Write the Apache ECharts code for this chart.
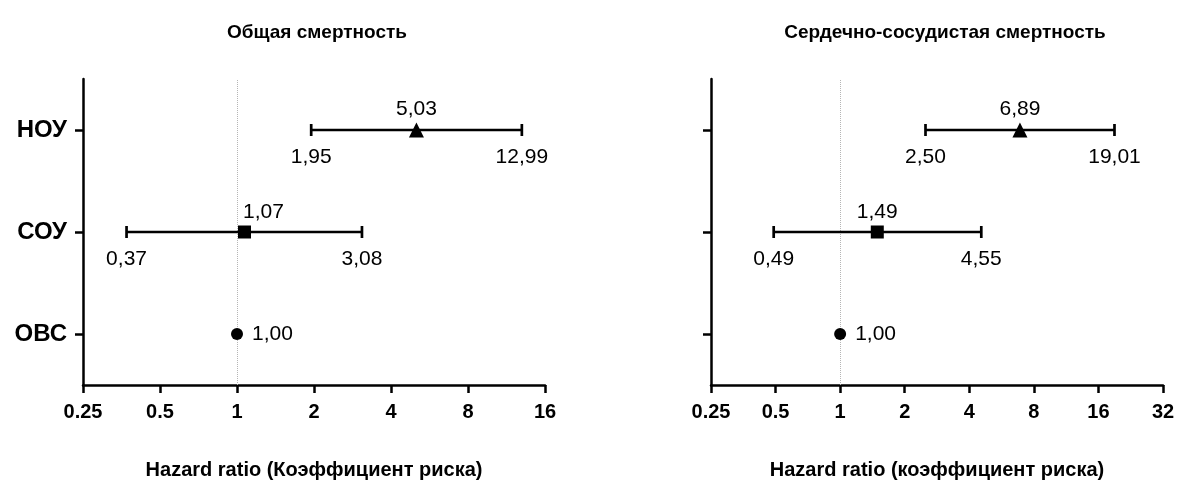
<!DOCTYPE html>
<html>
<head>
<meta charset="utf-8">
<script src="https://cdn.jsdelivr.net/npm/echarts@6/dist/echarts.min.js"></script>
<style>
  html, body { margin: 0; padding: 0; background: #fff; }
  #chart { width: 1179px; height: 491px; }
</style>
</head>
<body>
<div id="chart"></div>
<script>
// Groups, bottom to top on the category axis
const groups = ['ОВС', 'СОУ', 'НОУ'];

// All-cause mortality: hazard ratio with 95% CI
const totalHR   = [1.00, 1.07, 5.03];
const totalLow  = [null, 0.37, 1.95];
const totalHigh = [null, 3.08, 12.99];

// Cardiovascular mortality: hazard ratio with 95% CI
const cvHR   = [1.00, 1.49, 6.89];
const cvLow  = [null, 0.49, 2.50];
const cvHigh = [null, 4.55, 19.01];

// Tick labels of the log2 axes
const totalTicks = ['0.25', '0.5', '1', '2', '4', '8', '16'];
const cvTicks    = ['0.25', '0.5', '1', '2', '4', '8', '16', '32'];

const titles = ['Общая смертность', 'Сердечно-сосудистая смертность'];
const axisNames = ['Hazard ratio (Коэффициент риска)', 'Hazard ratio (коэффициент риска)'];

const markerShapes = ['circle', 'rect', 'triangle'];
const markerSizes = [12, 13, 15];

const FONT = "'Liberation Sans', Arial, Helvetica, sans-serif";
const VALUE_FONT_SIZE = 21;
const fmt = v => v.toFixed(2).replace('.', ',');

// Horizontal confidence interval with end caps and the bound values beneath
function ciRenderItem(params, api) {
  const lo = api.value(0), hi = api.value(1), cat = api.value(2);
  const a = api.coord([lo, cat]);
  const b = api.coord([hi, cat]);
  const cap = 6;
  const stroke = { stroke: '#000', lineWidth: 2.7 };
  const txt = (x, y, s) => ({
    type: 'text', x: x, y: y,
    style: { text: s, align: 'center', verticalAlign: 'middle',
             font: VALUE_FONT_SIZE + 'px ' + FONT, fill: '#000' }
  });
  return {
    type: 'group',
    children: [
      { type: 'line', shape: { x1: a[0], y1: a[1], x2: b[0], y2: b[1] }, style: stroke },
      { type: 'line', shape: { x1: a[0], y1: a[1] - cap, x2: a[0], y2: a[1] + cap }, style: stroke },
      { type: 'line', shape: { x1: b[0], y1: b[1] - cap, x2: b[0], y2: b[1] + cap }, style: stroke },
      txt(a[0], a[1] + 27, fmt(lo)),
      txt(b[0], b[1] + 27, fmt(hi))
    ]
  };
}

function panel(idx, hr, low, high) {
  const ciData = [];
  hr.forEach((v, i) => {
    if (low[i] != null) ciData.push([low[i], high[i], i]);
  });
  const pointData = hr.map((v, i) => {
    const onRef = v === 1;
    const nearRef = !onRef && Math.abs(Math.log2(v)) < 0.2;
    return {
      value: [v, i],
      symbol: markerShapes[i],
      symbolSize: markerSizes[i],
      label: onRef
        ? { position: 'right', distance: 9 }
        : { position: 'top', distance: 3, offset: nearRef ? [19, 0] : [0, 0] }
    };
  });
  return [
    {
      type: 'custom',
      xAxisIndex: idx, yAxisIndex: idx,
      renderItem: ciRenderItem,
      encode: { x: [0, 1], y: 2 },
      data: ciData,
      z: 2
    },
    {
      type: 'scatter',
      xAxisIndex: idx, yAxisIndex: idx,
      data: pointData,
      itemStyle: { color: '#000', opacity: 1 },
      label: {
        show: true,
        formatter: p => fmt(p.value[0]),
        color: '#000',
        fontFamily: FONT,
        fontSize: VALUE_FONT_SIZE
      },
      emphasis: { disabled: true },
      z: 3,
      markLine: {
        silent: true,
        symbol: ['none', 'none'],
        label: { show: false },
        lineStyle: { type: 'dotted', color: '#b5b5b5', width: 1 },
        data: [{ xAxis: 1 }],
        z: 1
      }
    }
  ];
}

function xAxis(idx, ticks, name) {
  return {
    type: 'log',
    logBase: 2,
    gridIndex: idx,
    min: 0.25,
    max: 0.25 * Math.pow(2, ticks.length - 1),
    interval: 1,
    name: name,
    nameLocation: 'middle',
    nameGap: 75,
    nameTextStyle: { fontFamily: FONT, fontWeight: 'bold', fontSize: 20, color: '#000' },
    axisLine: { show: true, lineStyle: { color: '#000', width: 2.5 } },
    axisTick: { show: true, length: 8, inside: false, lineStyle: { color: '#000', width: 2.5 } },
    splitLine: { show: false },
    minorTick: { show: false },
    axisLabel: {
      margin: 17,
      fontFamily: FONT, fontWeight: 'bold', fontSize: 20, color: '#000',
      formatter: v => ticks[Math.round(Math.log2(v)) + 2]
    }
  };
}

function yAxis(idx, showLabels) {
  return {
    type: 'category',
    gridIndex: idx,
    data: groups,
    boundaryGap: true,
    axisLine: { show: true, lineStyle: { color: '#000', width: 2.5 } },
    axisTick: { show: true, alignWithLabel: true, length: 8, lineStyle: { color: '#000', width: 2.5 } },
    splitLine: { show: false },
    axisLabel: {
      show: showLabels,
      margin: 16,
      fontFamily: FONT, fontWeight: 'bold', fontSize: 24, color: '#000'
    }
  };
}

const titleStyle = { fontFamily: FONT, fontWeight: 'bold', fontSize: 19, color: '#000' };

const chart = echarts.init(document.getElementById('chart'), null, { renderer: 'canvas' });
chart.setOption({
  backgroundColor: '#fff',
  animation: false,
  title: [
    { text: titles[0], left: 312, top: 18, textAlign: 'center', textStyle: titleStyle },
    { text: titles[1], left: 940, top: 18, textAlign: 'center', textStyle: titleStyle }
  ],
  grid: [
    { left: 83, top: 79, width: 462, height: 306 },
    { left: 711, top: 79, width: 452, height: 306 }
  ],
  xAxis: [
    xAxis(0, totalTicks, axisNames[0]),
    xAxis(1, cvTicks, axisNames[1])
  ],
  yAxis: [yAxis(0, true), yAxis(1, false)],
  series: panel(0, totalHR, totalLow, totalHigh)
    .concat(panel(1, cvHR, cvLow, cvHigh))
});
</script>
</body>
</html>
